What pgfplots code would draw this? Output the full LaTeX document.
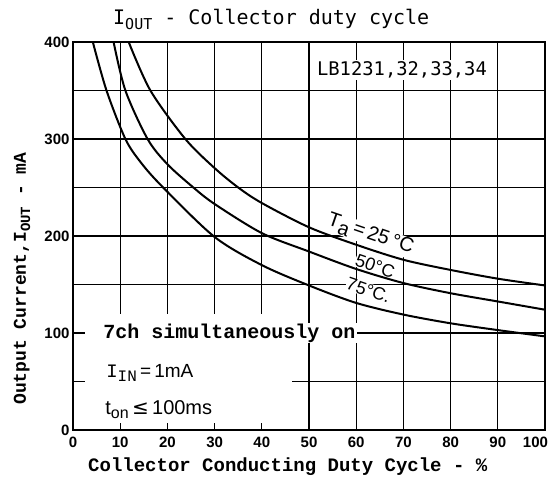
\documentclass[border=0pt]{standalone}
\usepackage{pgfplots}
\pgfplotsset{compat=1.18}
\usepackage{fontspec}
\setmainfont{Liberation Sans}
\newfontfamily\mono{Liberation Mono}
\newfontfamily\dmono{DejaVu Sans Mono}
\newfontfamily\dsans{DejaVu Sans}
\begin{document}
\begin{tikzpicture}[x=1pt,y=1pt]
\useasboundingbox (0,0) rectangle (551,497);
\begin{axis}[at={(73pt,67pt)}, anchor=south west, scale only axis,
  width=472pt, height=388pt,
  xmin=0, xmax=100, ymin=0, ymax=400,
  xtick={0,10,...,100}, ytick={0,100,...,400}, minor ytick={50,150,250,350},
  xticklabels={0,10,20,30,40,50,60,70,80,90,\makebox[6pt][r]{100}},
  grid=both,
  major grid style={black, line width=1.1pt},
  minor grid style={black, line width=1.1pt},
  axis line style={line width=1.6pt},
  major tick length=0pt, minor tick length=0pt,
  tick label style={font=\bfseries\fontsize{15}{15}\selectfont},
  xticklabel style={yshift=-3pt},
  /pgf/number format/assume math mode=true,
  clip=false,
]
% blank lower-left panel
\fill[white] (axis cs:0.6,1.6) rectangle (axis cs:46.5,120);
\draw[line width=1.1pt] (axis cs:0,50) -- (axis cs:2.5,50);
\draw[line width=1.1pt] (axis cs:0,100) -- (axis cs:2.5,100);
\draw[line width=1.1pt] (axis cs:10,0) -- (axis cs:10,7);
\draw[line width=1.1pt] (axis cs:20,0) -- (axis cs:20,7);
\draw[line width=1.1pt] (axis cs:30,0) -- (axis cs:30,7);
\draw[line width=1.1pt] (axis cs:40,0) -- (axis cs:40,7);

% curve labels (white backing hides the grid, curves drawn over them)
\node[rotate=-19, fill=white, inner sep=0.5pt, font=\fontsize{20}{20}\selectfont] at (axis cs:63,201)
  {T\raisebox{-0.5ex}{a}\,=\,25\,°C};
\node[rotate=-19, fill=white, inner sep=0.5pt, font=\fontsize{18}{18}\selectfont] at (axis cs:64,169) {50°C};
\node[rotate=-19, fill=white, inner sep=0.5pt, font=\fontsize{18}{18}\selectfont] at (axis cs:62.6,144) {75°C.};

\addplot[black, line width=2pt, smooth] coordinates {
 (11.8,400) (16.4,350) (23.8,300) (30,270) (35,250) (40,234) (50,209) (60,191) (70,175.5) (80,165) (90,156) (100,149)};
\addplot[black, line width=2pt, smooth] coordinates {
 (8.6,400) (11.1,350) (15.8,300) (20,274) (25.5,250) (30,233) (40,203) (50,184) (60,166) (70,151.5) (80,141) (90,132.5) (100,124)};
\addplot[black, line width=2pt, smooth] coordinates {
 (4.2,400) (7.1,350) (11.1,300) (14.5,275) (19.1,250) (30,199) (40,170) (50,149) (60,131) (70,119) (80,110) (90,103) (100,96.5)};

\node[fill=white, inner sep=1pt, anchor=west, font=\mono\bfseries\fontsize{20}{20}\selectfont]
  at (axis cs:6.2,100) {7ch simultaneously on};
\node[anchor=west, inner sep=1pt, font=\fontsize{19}{19}\selectfont]
  at (axis cs:6.8,59) {{\mono I}\raisebox{-0.45ex}{\mono\fontsize{16}{16}\selectfont IN}\,=\,1mA};
\node[anchor=west, inner sep=1pt, font=\fontsize{20}{20}\selectfont]
  at (axis cs:6.6,21) {t\raisebox{-0.45ex}{\fontsize{16}{16}\selectfont on}\,{\dsans ≤}\,100ms};

\node[fill=white, inner sep=2pt, font=\dmono\fontsize{18.8}{18.8}\selectfont]
  at (axis cs:69.7,371) {LB1231,32,33,34};

% title and labels
\node[font=\dmono\fontsize{20}{20}\selectfont] at (rel axis cs:0.42,1) [yshift=23pt]
  {I\raisebox{-0.45ex}{\fontsize{15}{15}\selectfont OUT} - Collector duty cycle};
\node[font=\mono\bfseries\fontsize{19}{19}\selectfont] at (rel axis cs:0.455,0) [yshift=-37pt]
  {Collector Conducting Duty Cycle - \%};
\node[xshift=-51pt, rotate=90, font=\mono\bfseries\fontsize{18}{18}\selectfont] at (rel axis cs:0,0.39)
  {Output Current,I\raisebox{-0.45ex}{\fontsize{14}{14}\selectfont OUT} - mA};
\end{axis}
\end{tikzpicture}
\end{document}
